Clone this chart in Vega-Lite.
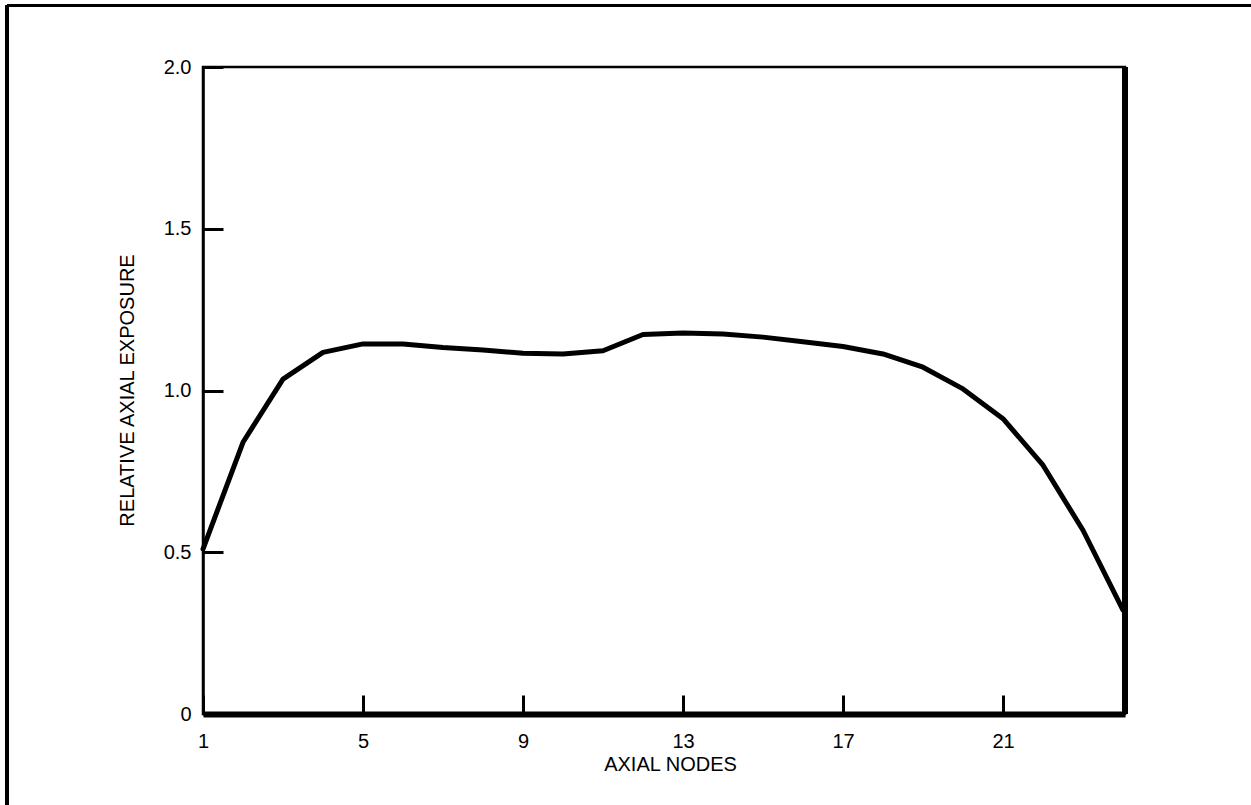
{
  "$schema": "https://vega.github.io/schema/vega-lite/v6.json",
  "autosize": {"type": "none"},
  "padding": {"left": 203, "top": 67, "right": 126, "bottom": 91},
  "width": 922,
  "height": 647,
  "background": "white",
  "config": {
    "view": {"stroke": "black", "strokeWidth": 2.5},
    "font": "Liberation Sans",
    "axis": {"labelColor": "black", "titleColor": "black", "labelFontSize": 20, "titleFontSize": 20, "titleFontWeight": "normal", "labelFont": "Liberation Sans", "titleFont": "Liberation Sans", "grid": false, "tickColor": "black", "domainColor": "black"}
  },
  "data": {
    "values": [
      {"node": 1, "exposure": 0.51},
      {"node": 2, "exposure": 0.84},
      {"node": 3, "exposure": 1.035},
      {"node": 4, "exposure": 1.118},
      {"node": 5, "exposure": 1.144},
      {"node": 6, "exposure": 1.144},
      {"node": 7, "exposure": 1.133},
      {"node": 8, "exposure": 1.125},
      {"node": 9, "exposure": 1.115},
      {"node": 10, "exposure": 1.113},
      {"node": 11, "exposure": 1.123},
      {"node": 12, "exposure": 1.173},
      {"node": 13, "exposure": 1.178},
      {"node": 14, "exposure": 1.175},
      {"node": 15, "exposure": 1.165},
      {"node": 16, "exposure": 1.151},
      {"node": 17, "exposure": 1.136},
      {"node": 18, "exposure": 1.113},
      {"node": 19, "exposure": 1.072},
      {"node": 20, "exposure": 1.005},
      {"node": 21, "exposure": 0.913},
      {"node": 22, "exposure": 0.769},
      {"node": 23, "exposure": 0.568},
      {"node": 24, "exposure": 0.321}
    ]
  },
  "layer": [
    {
      "mark": {"type": "line", "color": "black", "strokeWidth": 5, "strokeJoin": "round", "strokeCap": "round"},
      "encoding": {
        "x": {
          "field": "node", "type": "quantitative",
          "scale": {"domain": [1, 24.05], "nice": false, "zero": false},
          "axis": {
            "title": "AXIAL NODES", "values": [1, 5, 9, 13, 17, 21],
            "tickSize": -19, "tickWidth": 3, "labelPadding": 36, "labelFlush": false, "labelOverlap": false,
            "domainWidth": 6, "titleX": 467, "titleY": 56, "titleBaseline": "alphabetic", "titleAnchor": "middle"
          }
        },
        "y": {
          "field": "exposure", "type": "quantitative",
          "scale": {"domain": [0, 2], "nice": false},
          "axis": {
            "title": "RELATIVE AXIAL EXPOSURE", "values": [0, 0.5, 1, 1.5, 2],
            "labelExpr": "datum.value == 0 ? '0' : format(datum.value, '.1f')",
            "tickSize": -20, "tickWidth": 3, "labelPadding": 32, "labelFlush": false, "labelOverlap": false,
            "domainWidth": 2.5, "titleX": -70, "titleY": 323, "titleBaseline": "alphabetic", "titleAngle": -90, "titleAnchor": "middle"
          }
        }
      }
    },
    {
      "mark": {"type": "rule", "color": "black", "strokeWidth": 5.5},
      "encoding": {"x": {"datum": 24.05, "type": "quantitative"}, "y": {"datum": 0, "type": "quantitative"}, "y2": {"datum": 2}}
    },
    {
      "mark": {"type": "rule", "color": "black", "strokeWidth": 2.4},
      "encoding": {"x": {"datum": -3.9, "type": "quantitative"}, "x2": {"datum": 27.3}, "y": {"datum": 2.19, "type": "quantitative"}}
    },
    {
      "mark": {"type": "rule", "color": "black", "strokeWidth": 2.4},
      "encoding": {"x": {"datum": -3.9, "type": "quantitative"}, "y": {"datum": 2.19, "type": "quantitative"}, "y2": {"datum": -0.3}}
    }
  ]
}
